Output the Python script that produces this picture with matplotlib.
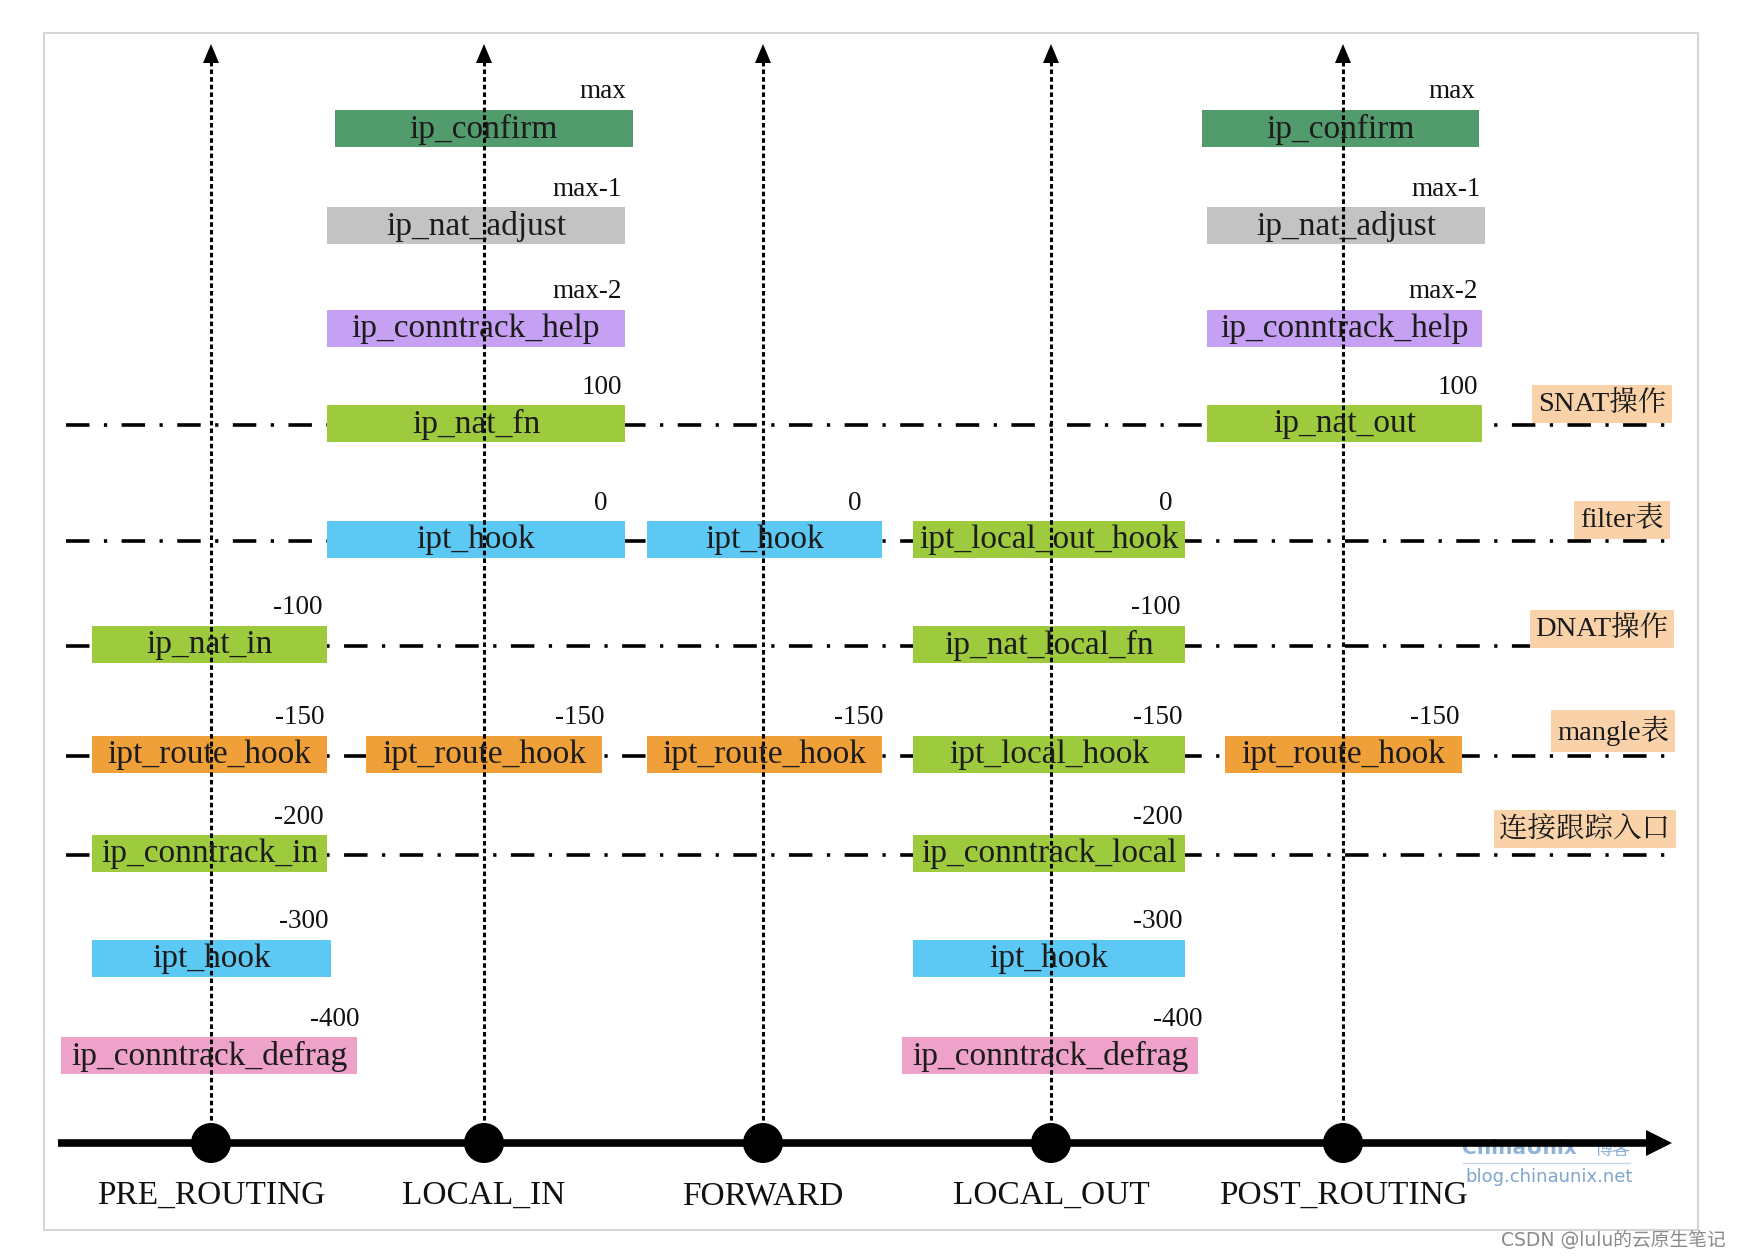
import matplotlib.pyplot as plt
from matplotlib.patches import Rectangle, Circle, Polygon

# hook points along the packet path
hooks = ['PRE_ROUTING', 'LOCAL_IN', 'FORWARD', 'LOCAL_OUT', 'POST_ROUTING']

# priority levels, top to bottom
prios = ['max', 'max-1', 'max-2', '100', '0', '-100', '-150', '-200', '-300', '-400']

# registered functions (one entry per box)
box_name = ['ip_confirm', 'ip_confirm',
            'ip_nat_adjust', 'ip_nat_adjust',
            'ip_conntrack_help', 'ip_conntrack_help',
            'ip_nat_fn', 'ip_nat_out',
            'ipt_hook', 'ipt_hook', 'ipt_local_out_hook',
            'ip_nat_in', 'ip_nat_local_fn',
            'ipt_route_hook', 'ipt_route_hook', 'ipt_route_hook', 'ipt_local_hook', 'ipt_route_hook',
            'ip_conntrack_in', 'ip_conntrack_local',
            'ipt_hook', 'ipt_hook',
            'ip_conntrack_defrag', 'ip_conntrack_defrag']
box_hook = ['LOCAL_IN', 'POST_ROUTING',
            'LOCAL_IN', 'POST_ROUTING',
            'LOCAL_IN', 'POST_ROUTING',
            'LOCAL_IN', 'POST_ROUTING',
            'LOCAL_IN', 'FORWARD', 'LOCAL_OUT',
            'PRE_ROUTING', 'LOCAL_OUT',
            'PRE_ROUTING', 'LOCAL_IN', 'FORWARD', 'LOCAL_OUT', 'POST_ROUTING',
            'PRE_ROUTING', 'LOCAL_OUT',
            'PRE_ROUTING', 'LOCAL_OUT',
            'PRE_ROUTING', 'LOCAL_OUT']
box_prio = ['max', 'max',
            'max-1', 'max-1',
            'max-2', 'max-2',
            '100', '100',
            '0', '0', '0',
            '-100', '-100',
            '-150', '-150', '-150', '-150', '-150',
            '-200', '-200',
            '-300', '-300',
            '-400', '-400']
box_kind = ['confirm', 'confirm', 'adjust', 'adjust', 'help', 'help',
            'nat', 'nat', 'filter', 'filter', 'nat', 'nat', 'nat',
            'mangle', 'mangle', 'mangle', 'nat', 'mangle',
            'nat', 'nat', 'filter', 'filter', 'defrag', 'defrag']

# table / operation rows marked with dash-dot lines
table_prio = ['100', '0', '-100', '-150', '-200']
table_label = ['SNAT操作', 'filter表', 'DNAT操作', 'mangle表', '连接跟踪入口']

# ---- styling / layout (pixel coordinates of a 1740x1258 canvas) ----
colors = {'confirm': '#529b6c', 'adjust': '#c3c3c3', 'help': '#c6a0f2',
          'nat': '#9ecb3e', 'filter': '#5cc8f4', 'mangle': '#f0a038',
          'defrag': '#eea1c9'}
tan = '#f9d2aa'

hook_x = [211, 484, 763, 1051, 1343]
row_y = [128, 225, 328, 423, 539, 644, 754, 853, 958, 1055]
box_h = 37

# left / right edge of each box
box_span = [(335, 633), (1202, 1479),
            (327, 625), (1207, 1485),
            (327, 625), (1207, 1482),
            (327, 625), (1207, 1482),
            (327, 625), (647, 882), (913, 1185),
            (92, 327), (913, 1185),
            (92, 327), (366, 602), (647, 882), (913, 1185), (1225, 1462),
            (92, 327), (913, 1185),
            (92, 331), (913, 1185),
            (61, 357), (902, 1198)]
prio_dx = [-7, -4, -3, -4, -3, -4, -3, -4, -17, -20, -12, -4, -4, -2, 3, 2, -2, -2,
           -3, -2, -2, -2, 3, 5]

table_lx = [1602, 1622, 1602, 1613, 1585]
table_dy = [-19, -19, -15, -23, -24]

axis_y = 1143
serif = ['Liberation Serif', 'Noto Serif CJK SC', 'Noto Sans CJK SC']

fig = plt.figure(figsize=(17.4, 12.58), dpi=100)
ax = fig.add_axes([0, 0, 1, 1])
ax.set_xlim(0, 1740)
ax.set_ylim(1258, 0)
ax.axis('off')

# outer frame
ax.add_patch(Rectangle((44, 33), 1654, 1197, fill=False, ec='#d6d6d6', lw=1.5, zorder=0))

# dash-dot table lines
for p in table_prio:
    y = row_y[prios.index(p)] + 2
    ax.plot([66, 1673], [y, y], color='black', lw=2.6,
            linestyle=(0, (6.5, 4, 0.9, 4)), solid_capstyle='butt', zorder=1)

for p, lab, lx, dy in zip(table_prio, table_label, table_lx, table_dy):
    y = row_y[prios.index(p)] + dy
    ax.text(lx, y, lab, ha='center', va='center', fontsize=20.5, family=serif,
            color='#1a1a1a',
            bbox=dict(boxstyle='square,pad=0.2', fc=tan, ec='none'), zorder=2)

# function boxes
for name, hk, pr, kind, (x0, x1), dx in zip(box_name, box_hook, box_prio, box_kind, box_span, prio_dx):
    yc = row_y[prios.index(pr)]
    ax.add_patch(Rectangle((x0, yc - box_h / 2), x1 - x0, box_h,
                           fc=colors[kind], ec='none', zorder=3))
    ax.text((x0 + x1) / 2, yc + 1, name, ha='center', va='center', fontsize=24,
            family=serif, color='#1c1c1c', zorder=6)
    ax.text(x1 + dx, yc - box_h / 2 - 5, pr, ha='right', va='bottom', fontsize=19.5,
            family=serif, color='#111111', zorder=6)

# watermark (sits under the main axis)
ax.text(1462, 1148, 'ChinaUnix', ha='left', va='center', fontsize=14.5, fontweight='bold',
        family='DejaVu Sans', color='#8fb3d8', zorder=4)
ax.text(1594, 1150, '博客', ha='left', va='center', fontsize=13,
        family='Noto Sans CJK SC', color='#8fb3d8', zorder=4)
ax.plot([1463, 1630], [1163, 1163], color='#c8d6e6', lw=1, zorder=4)
ax.text(1465, 1177, 'blog.chinaunix.net', ha='left', va='center', fontsize=13,
        family='DejaVu Sans', color='#7ea5cc', zorder=4)

# hook verticals with arrows
for hx, name in zip(hook_x, hooks):
    ax.plot([hx, hx], [axis_y, 60], color='black', lw=2.2,
            linestyle=(0, (1.5, 1.0)), zorder=5)
    ax.add_patch(Polygon([(hx, 44), (hx - 8, 63), (hx + 8, 63)], closed=True,
                         fc='black', ec='none', zorder=5))
    ax.text(hx, 1196, name, ha='center', va='center', fontsize=24,
            family=serif, color='#111111', zorder=6)

# main axis
ax.plot([58, 1650], [axis_y, axis_y], color='black', lw=5.5, solid_capstyle='butt', zorder=7)
ax.add_patch(Polygon([(1672, axis_y), (1646, axis_y - 13), (1646, axis_y + 13)],
                     closed=True, fc='black', ec='none', zorder=7))
for hx in hook_x:
    ax.add_patch(Circle((hx, axis_y), 20, fc='black', ec='none', zorder=8))

ax.text(1726, 1240, 'CSDN @lulu的云原生笔记', ha='right', va='center', fontsize=13.5,
        family=['DejaVu Sans', 'Noto Sans CJK SC'], color='#8a8a8a')

fig.savefig('out.png', dpi=100)
